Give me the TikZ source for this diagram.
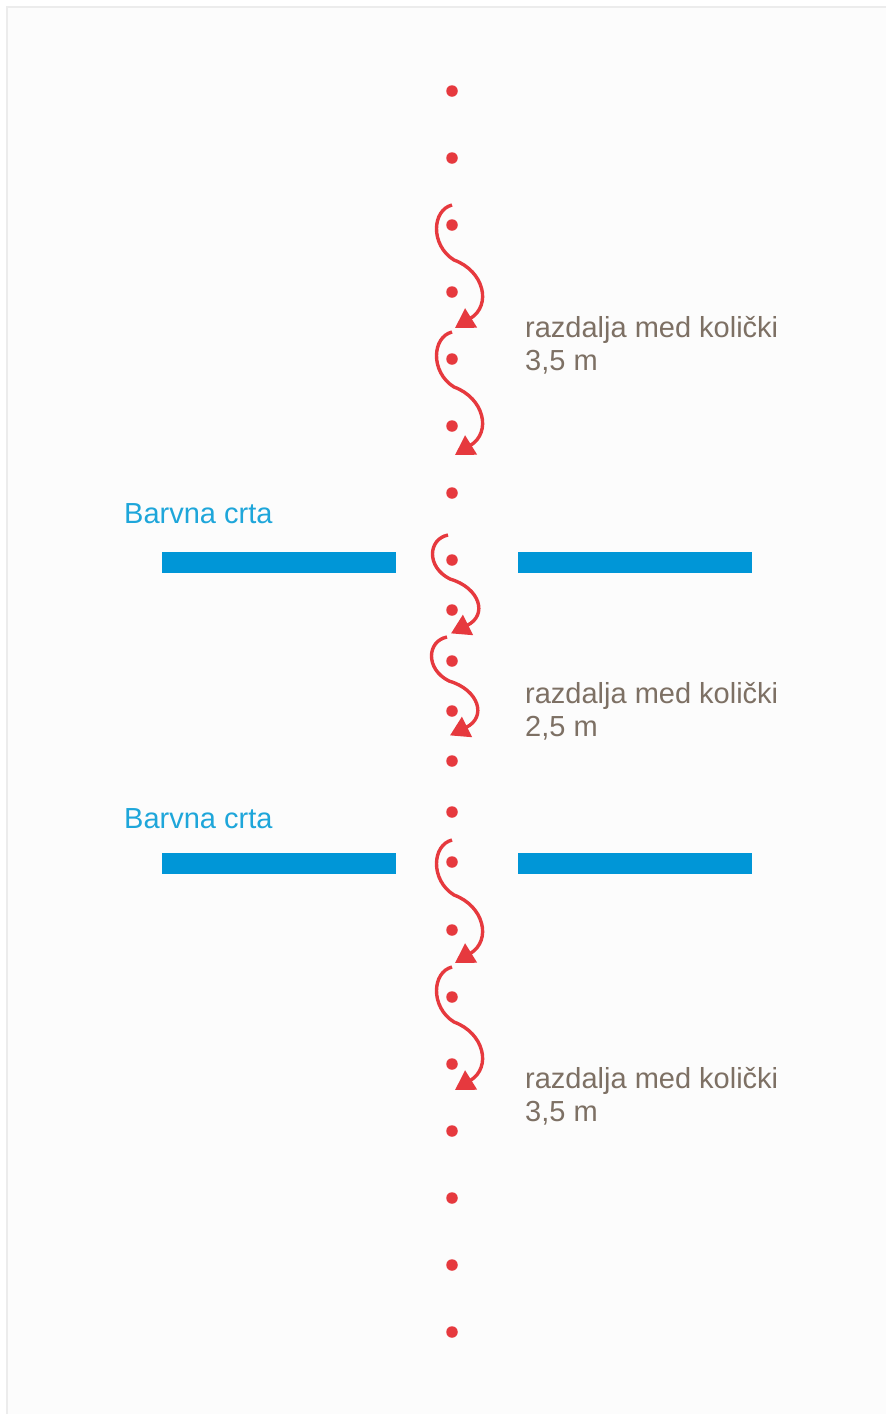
\documentclass[tikz,border=0pt]{standalone}
\usepackage{fontspec}
\setmainfont{Liberation Sans}
\usetikzlibrary{arrows.meta}

\definecolor{kolred}{RGB}{230,57,62}
\definecolor{crtablue}{RGB}{0,150,215}
\definecolor{crtatxt}{RGB}{30,166,218}
\definecolor{razdtxt}{RGB}{125,112,100}
\definecolor{framegray}{RGB}{236,236,236}

\tikzset{
  wave/.pic={
    \draw[wavearrow] (0,0) .. controls (-20,5) and (-22,40) .. (2,55)
      .. controls (32,66) and (40,100) .. (3,123);
  }
}

\begin{document}
\begin{tikzpicture}[x=1pt,y=-1pt,
  dot/.style={circle,fill=kolred,inner sep=0pt,minimum size=11.5pt},
  bar/.style={fill=crtablue},
  crtatext/.style={text=crtatxt,inner sep=0pt,anchor=base west,font=\fontsize{29}{33}\selectfont},
  razdtext/.style={text=razdtxt,inner sep=0pt,anchor=base west,font=\fontsize{29}{33}\selectfont},
  wavearrow/.style={draw=kolred,line width=3.4pt,-{Triangle[length=19pt,width=22pt]}}]
\useasboundingbox (0,0) rectangle (886,1414);
\fill[white!99!black] (7,7) rectangle (886,1414);
\draw[framegray,line width=1.5pt] (7,1414) -- (7,7) -- (886,7);

% kolicki
\foreach \y [count=\i] in {91,158,225,292,359,426,493,560,610,661,711,761,812,862,930,997,1064,1131,1198,1265,1332}
  \node[dot] (d\i) at (452,\y) {};

% barvne crte
\fill[bar] (162,552) rectangle (396,573);
\fill[bar] (518,552) rectangle (752,573);
\fill[bar] (162,853) rectangle (396,874);
\fill[bar] (518,853) rectangle (752,874);
\node[crtatext] (crta1) at (124,523) {Barvna crta};
\node[crtatext] (crta2) at (124,828) {Barvna crta};

% voznja med kolicki
\pic at (452,205) {wave};
\pic at (452,332) {wave};
\pic[yscale=0.8] at (448,535) {wave};
\pic[yscale=0.8] at (447,637) {wave};
\pic at (452,840) {wave};
\pic at (452,967) {wave};

% razdalje
\node[razdtext] (r1a) at (525,337) {razdalja med količki};
\node[razdtext] (r1b) at (525,370) {3,5 m};
\node[razdtext] (r2a) at (525,703) {razdalja med količki};
\node[razdtext] (r2b) at (525,736) {2,5 m};
\node[razdtext] (r3a) at (525,1088) {razdalja med količki};
\node[razdtext] (r3b) at (525,1121) {3,5 m};
\end{tikzpicture}
\end{document}
